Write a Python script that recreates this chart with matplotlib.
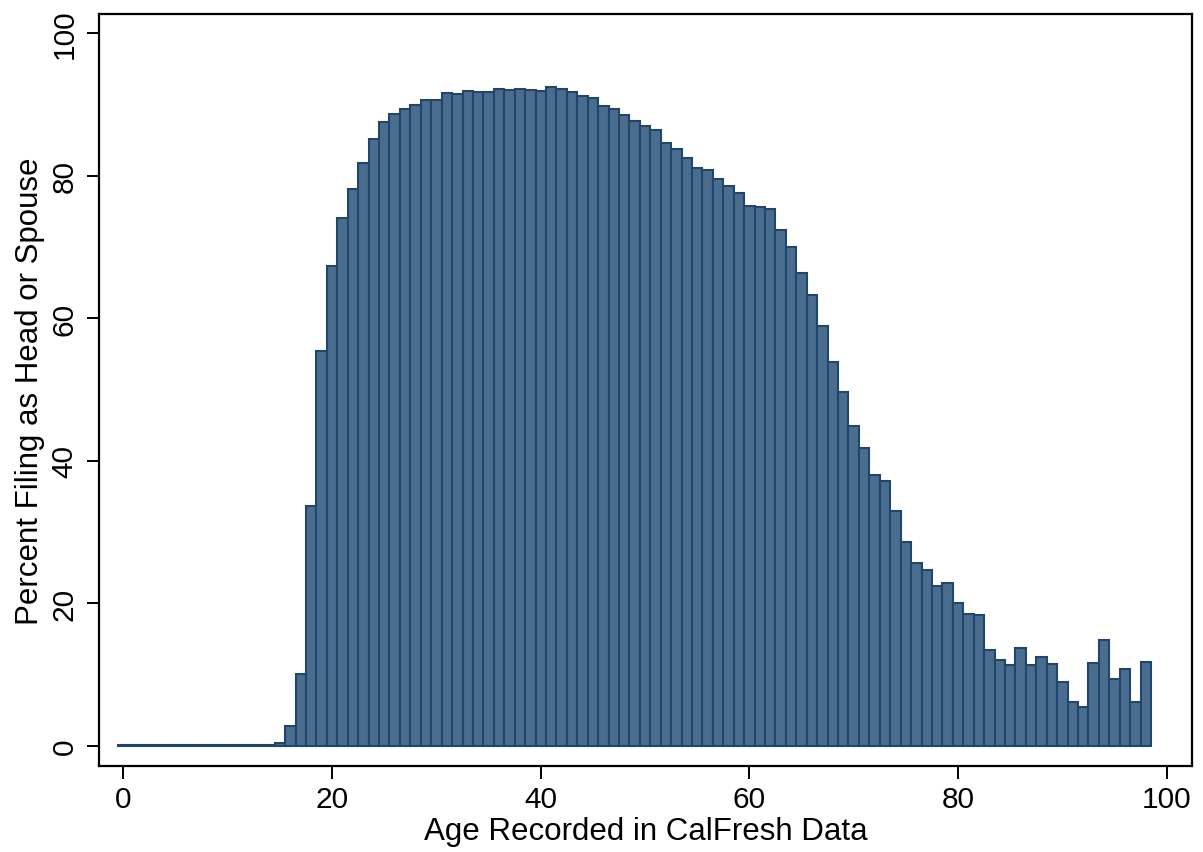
#!/usr/bin/env python3
"""
Share of CalFresh records filing as head or spouse, by recorded age
"""
import matplotlib
matplotlib.use('Agg')
import matplotlib.pyplot as plt

ages = list(range(0, 99))
pct_head_spouse = [
  0.1, 0.1, 0.1, 0.1, 0.1, 0.1, 0.1, 0.1, 0.1, 0.1,   # 0-9
  0.1, 0.1, 0.1, 0.1, 0.05, 0.45, 2.8, 10.1, 33.7, 55.4,  # 10-19
  67.3, 74.1, 78.2, 81.8, 85.1, 87.6, 88.6, 89.4, 89.9, 90.6,  # 20-29
  90.7, 91.6, 91.5, 91.9, 91.8, 91.8, 92.2, 92.0, 92.2, 92.1,  # 30-39
  91.9, 92.4, 92.2, 91.7, 91.2, 90.9, 89.8, 89.4, 88.5, 87.7,  # 40-49
  87.0, 86.4, 84.6, 83.8, 82.5, 81.1, 80.8, 79.6, 78.6, 77.6,  # 50-59
  75.8, 75.6, 75.4, 72.4, 70.0, 66.3, 63.3, 58.9, 53.8, 49.7,  # 60-69
  44.9, 41.8, 38.0, 37.1, 33.0, 28.6, 25.7, 24.6, 22.4, 22.8,  # 70-79
  20.1, 18.5, 18.4, 13.4, 12.0, 11.3, 13.7, 11.4, 12.4, 11.5,  # 80-89
  9.0, 6.1, 5.4, 11.6, 14.9, 9.4, 10.8, 6.2, 11.7,            # 90-98
]
x_ticks = [0, 20, 40, 60, 80, 100]
y_ticks = [0, 20, 40, 60, 80, 100]


def main():
  plt.rcParams['font.family'] = ['Liberation Sans', 'DejaVu Sans']
  fig = plt.figure(figsize=(12.03, 8.53), dpi=100)
  ax = fig.add_axes([0.0827, 0.1012, 0.9079, 0.8812])

  ax.bar(ages, pct_head_spouse, width=1.0, color='#4a6c8d',
         edgecolor='#1e4670', linewidth=1.5)

  ax.set_xlim(-2.3, 102.4)
  ax.set_ylim(-2.8, 102.7)
  ax.set_xticks(x_ticks)
  ax.set_yticks(y_ticks)
  ax.tick_params(axis='both', direction='out', length=9, width=1.4,
                 labelsize=21.5, color='black')
  ax.tick_params(axis='x', pad=5)
  ax.tick_params(axis='y', pad=6)
  for lbl in ax.get_yticklabels():
    lbl.set_rotation(90)
    lbl.set_va('center')
  for spine in ax.spines.values():
    spine.set_linewidth(1.6)

  ax.set_xlabel('Age Recorded in CalFresh Data', fontsize=22.5, labelpad=2)
  ax.set_ylabel('Percent Filing as Head or Spouse', fontsize=22.5, labelpad=4)

  fig.savefig('out.png', dpi=100)


if __name__ == '__main__':
  main()
